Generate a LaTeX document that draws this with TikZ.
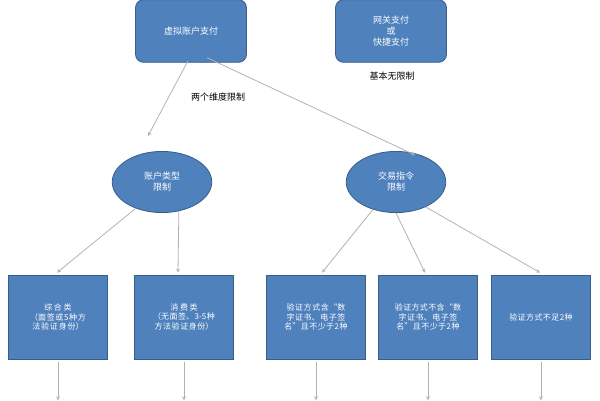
\documentclass[tikz,border=0pt]{standalone}
\usepackage{fontspec}
\setmainfont{Noto Sans CJK SC}
\XeTeXlinebreaklocale "zh"
\XeTeXlinebreakskip=0pt plus 1pt
\usetikzlibrary{shapes.geometric}
\definecolor{boxblue}{HTML}{4F81BD}
\definecolor{boxedge}{HTML}{385D8A}
\tikzset{
  topbox/.style={draw=boxedge,thick,fill=boxblue,rounded corners=8pt,minimum width=3.9cm,minimum height=2.2cm,align=center,text=white,font=\small},
  oval/.style={ellipse,draw=boxedge,thick,fill=boxblue,minimum width=3.5cm,minimum height=2.15cm,align=center,text=white,font=\small},
  leaf/.style={draw=boxedge,thick,fill=boxblue,minimum width=3.5cm,minimum height=2.95cm,align=center,text=white,font=\footnotesize,text width=2.7cm},
  link/.style={gray!60,thick,-stealth}
}
\begin{document}
\begin{tikzpicture}[x=1pt,y=-1pt]
\useasboundingbox (0,0) rectangle (600,400);
\node[topbox] (virt) at (191,31) {虚拟账户支付};
\node[topbox] (gate) at (391,31) {网关支付\\或\\快捷支付};
\node[font=\small] (free) at (392,76) {基本无限制};
\node[oval] (acct) at (162,182) {账户类型\\限制};
\node[oval] (order) at (396,182) {交易指令\\限制};
\node[leaf] (b1) at (58,317) {综合类\\（面签或5种方法验证身份）};
\node[leaf] (b2) at (184,317) {消费类\\（无面签、3-5种方法验证身份）};
\node[leaf] (b3) at (316,317) {验证方式含“数字证书、电子签名”且不少于2种};
\node[leaf] (b4) at (428,317) {验证方式不含“数字证书、电子签名”且不少于2种};
\node[leaf] (b5) at (541,317) {验证方式不足2种};
\node[font=\small] (dim) at (218,97) {两个维度限制};
\draw[link] ([xshift=-3pt,yshift=2pt]virt.south) -- ([xshift=-14pt,yshift=15pt]acct.north);
\draw[link] ([xshift=16pt,yshift=5pt]virt.south) -- ([xshift=19pt,yshift=-4pt]order.north);
\draw[link] (acct.225) -- ([xshift=-1pt,yshift=2pt]b1.north);
\draw[link] (acct.300) -- ([xshift=-6pt,yshift=2pt]b2.north);
\draw[link] (order.230) -- ([xshift=6pt,yshift=2pt]b3.north);
\draw[link] (order.south) -- ([xshift=-3pt,yshift=2pt]b4.north);
\draw[link] (order.320) -- ([xshift=-1pt,yshift=2pt]b5.north);
\foreach \b in {b1,b2,b3,b4,b5}
  \draw[link] ([yshift=-3pt]\b.south) -- ++(0,38);
\end{tikzpicture}
\end{document}
